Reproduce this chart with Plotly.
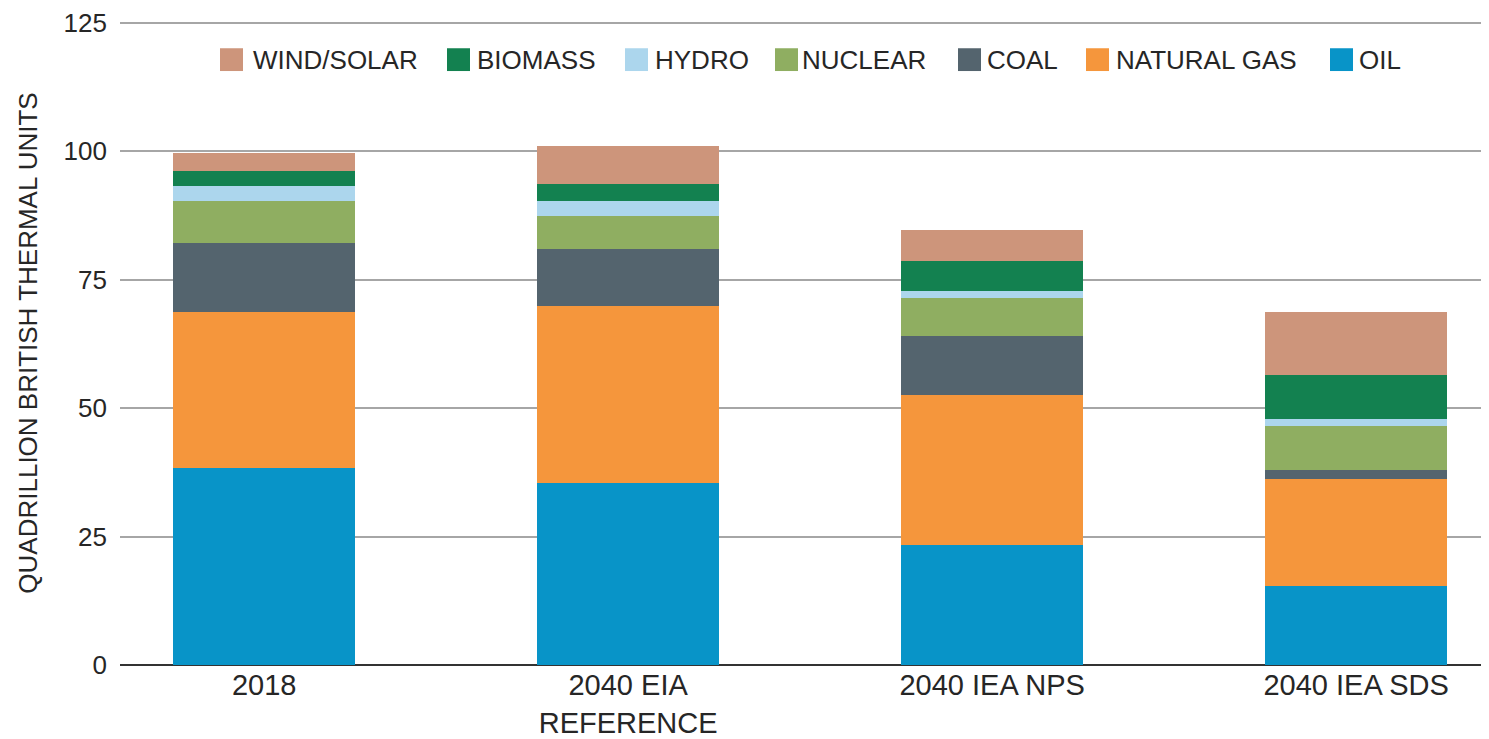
import plotly.graph_objects as go

categories = ["2018", "2040 EIA<br>REFERENCE", "2040 IEA NPS", "2040 IEA SDS"]
oil = [38.4, 35.5, 23.4, 15.3]
natural_gas = [30.4, 34.4, 29.2, 21.0]
coal = [13.3, 11.1, 11.5, 1.6]
nuclear = [8.2, 6.5, 7.4, 8.7]
hydro = [2.9, 2.8, 1.3, 1.3]
biomass = [2.9, 3.4, 5.8, 8.5]
wind_solar = [3.6, 7.3, 6.0, 12.4]

series_names = ["OIL", "NATURAL GAS", "COAL", "NUCLEAR", "HYDRO", "BIOMASS", "WIND/SOLAR"]
series_values = [oil, natural_gas, coal, nuclear, hydro, biomass, wind_solar]
series_colors = ["#0894c8", "#f5963c", "#54646e", "#8fae61", "#acd6ed", "#138150", "#cd957b"]

y_ticks = [0, 25, 50, 75, 100, 125]

# page has an 8px body margin; figure is sized to fill the rest of the window
OFF = 8
W, H = 1489 - OFF, 739 - OFF
ML, MR, MT, MB = 120 - OFF, 0, 20 - OFF - 2, 71
PW, PH = W - ML - MR, H - MT - MB
Y_TOP = 125 * PH / 648.0

font = "Liberation Sans, Arial, sans-serif"
txt = "#262626"

fig = go.Figure()
for name, vals, col in zip(series_names, series_values, series_colors):
    fig.add_trace(go.Bar(x=categories, y=vals, name=name, marker=dict(color=col, line=dict(width=0)),
                         width=0.5, showlegend=False))

# manual legend (order as in reference); positions in page pixels
legend_order = ["WIND/SOLAR", "BIOMASS", "HYDRO", "NUCLEAR", "COAL", "NATURAL GAS", "OIL"]
sq_left = [220, 447, 625, 775, 958, 1086, 1330]
txt_left = [252, 476, 654, 801, 986, 1115, 1358]
sq = 23
ly = 57
shapes = []
annotations = []
def px(x):
    return (x - OFF - ML) / PW
def py(y):
    return (H - MB - (y - OFF)) / PH
for name, sx, tx in zip(legend_order, sq_left, txt_left):
    col = series_colors[series_names.index(name)]
    shapes.append(dict(type="rect", xref="paper", yref="paper",
                       x0=px(sx), x1=px(sx + sq), y0=py(ly + sq / 2), y1=py(ly - sq / 2),
                       fillcolor=col, line=dict(width=0), layer="above"))
    annotations.append(dict(x=px(tx), y=py(ly), xref="paper", yref="paper", text=name,
                            showarrow=False, xanchor="left", yanchor="middle",
                            font=dict(family=font, size=26, color=txt), borderpad=0))

fig.update_layout(
    width=W, height=H,
    barmode="stack",
    margin=dict(l=ML, r=MR, t=MT, b=MB, pad=0),
    paper_bgcolor="white", plot_bgcolor="white",
    font=dict(family=font, size=26, color=txt),
    shapes=shapes, annotations=annotations,
    xaxis=dict(range=[-0.396, 3.365], showgrid=False, showline=False, ticks="",
               tickfont=dict(size=29, color=txt), zeroline=False),
    yaxis=dict(range=[0, Y_TOP], tickvals=y_ticks, showgrid=True, gridcolor="#a6a6a6", gridwidth=1.5,
               zeroline=True, zerolinecolor="#333333", zerolinewidth=2, showline=False, ticks="",
               ticklabelstandoff=12, ticklabeloverflow="allow", tickfont=dict(size=26, color=txt),
               title=dict(text="QUADRILLION BRITISH THERMAL UNITS", font=dict(size=26, color=txt), standoff=18)),
    showlegend=False,
)

fig.write_html("out.html")
